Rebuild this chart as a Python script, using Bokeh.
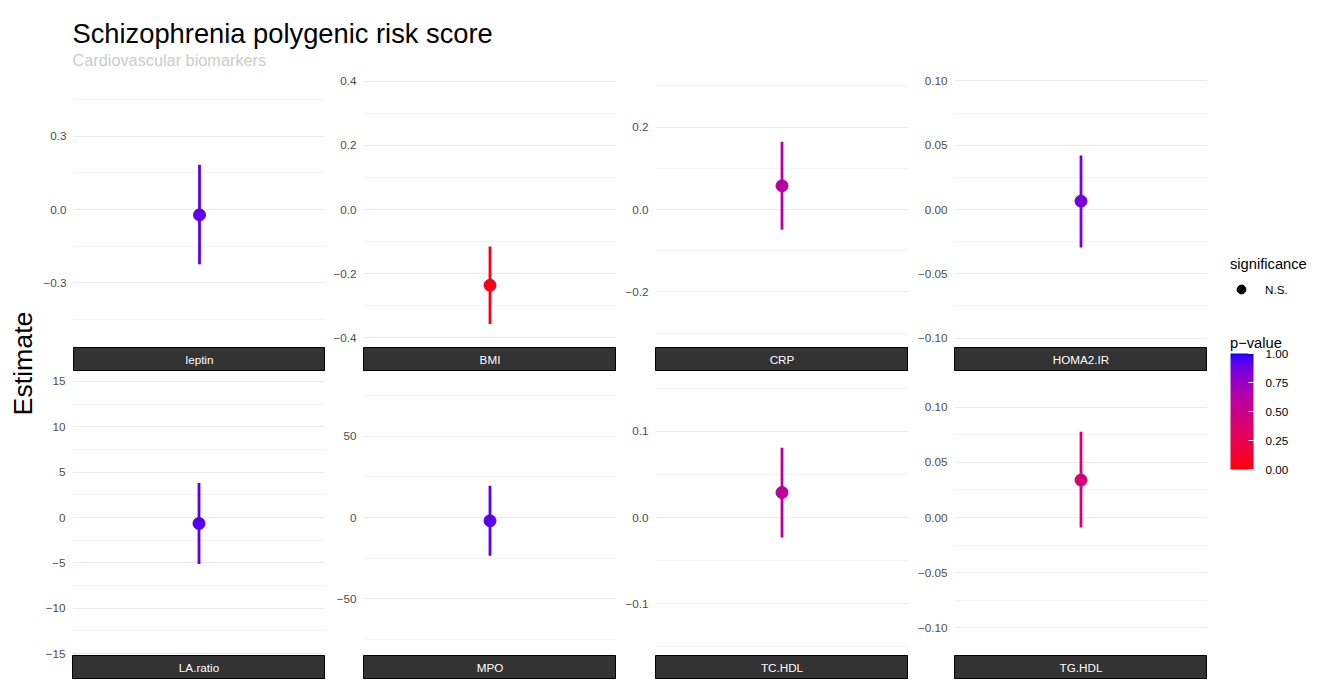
import math
from bokeh.plotting import figure
from bokeh.models import (ColumnDataSource, Range1d, FixedTicker, CustomJSTickFormatter,
                          LinearColorMapper, ColorBar, PrintfTickFormatter, Label,
                          Legend, LegendItem)
from bokeh.layouts import row, column
from bokeh.embed import file_html
from bokeh.resources import INLINE
from bokeh.transform import transform

# ---------------- data ----------------
markers = ["leptin", "BMI", "CRP", "HOMA2.IR", "LA.ratio", "MPO", "TC.HDL", "TG.HDL"]
estimate = [-0.022, -0.236, 0.0576, 0.0065, -0.66, -2.0, 0.029, 0.0339]
ci_low = [-0.224, -0.357, -0.0493, -0.0295, -5.12, -23.5, -0.0232, -0.0091]
ci_high = [0.183, -0.115, 0.1645, 0.042, 3.81, 19.6, 0.081, 0.0776]
p_value = [0.92, 0.05, 0.62, 0.86, 0.93, 0.92, 0.58, 0.42]
significance = ["N.S."] * 8
y_limit = [0.565, 0.43, 0.335, 0.1073, 15.2, 84.9, 0.160, 0.125]
major_ticks = [
    [-0.3, 0.0, 0.3],
    [-0.4, -0.2, 0.0, 0.2, 0.4],
    [-0.2, 0.0, 0.2],
    [-0.10, -0.05, 0.0, 0.05, 0.10],
    [-15, -10, -5, 0, 5, 10, 15],
    [-50, 0, 50],
    [-0.1, 0.0, 0.1],
    [-0.10, -0.05, 0.0, 0.05, 0.10],
]
minor_ticks = [
    [-0.45, -0.15, 0.15, 0.45],
    [-0.3, -0.1, 0.1, 0.3],
    [-0.3, -0.1, 0.1, 0.3],
    [-0.075, -0.025, 0.025, 0.075],
    [-12.5, -7.5, -2.5, 2.5, 7.5, 12.5],
    [-75, -25, 25, 75],
    [-0.15, -0.05, 0.05, 0.15],
    [-0.125, -0.075, -0.025, 0.025, 0.075, 0.125],
]
tick_decimals = [1, 1, 1, 2, 0, 0, 1, 2]
colorbar_ticks = [0.0, 0.25, 0.5, 0.75, 1.0]

title_text = "Schizophrenia polygenic risk score"
subtitle_text = "Cardiovascular biomarkers"
ylabel_text = "Estimate"
colorbar_title = "p\u2212value"
shape_title = "significance"

FONT = "Liberation Sans"

# ---------------- colour scale: red -> blue interpolated in Lab ----------------
def _lin(c):
    return c / 12.92 if c <= 0.04045 else ((c + 0.055) / 1.055) ** 2.4

def _gam(c):
    c = max(0.0, min(1.0, c))
    return 12.92 * c if c <= 0.0031308 else 1.055 * c ** (1 / 2.4) - 0.055

XN, YN, ZN = 0.95047, 1.0, 1.08883

def _f(t):
    d = 6 / 29
    return t ** (1 / 3) if t > d ** 3 else t / (3 * d * d) + 4 / 29

def _finv(t):
    d = 6 / 29
    return t ** 3 if t > d else 3 * d * d * (t - 4 / 29)

def hex_to_lab(h):
    r, g, b = [_lin(int(h[i:i + 2], 16) / 255) for i in (1, 3, 5)]
    X = 0.4124564 * r + 0.3575761 * g + 0.1804375 * b
    Y = 0.2126729 * r + 0.7151522 * g + 0.0721750 * b
    Z = 0.0193339 * r + 0.1191920 * g + 0.9503041 * b
    fx, fy, fz = _f(X / XN), _f(Y / YN), _f(Z / ZN)
    return 116 * fy - 16, 500 * (fx - fy), 200 * (fy - fz)

def lab_to_hex(L, a, b):
    fy = (L + 16) / 116
    fx = fy + a / 500
    fz = fy - b / 200
    X, Y, Z = XN * _finv(fx), YN * _finv(fy), ZN * _finv(fz)
    r = 3.2404542 * X - 1.5371385 * Y - 0.4985314 * Z
    g = -0.9692660 * X + 1.8760108 * Y + 0.0415560 * Z
    bb = 0.0556434 * X - 0.2040259 * Y + 1.0572252 * Z
    return "#%02x%02x%02x" % tuple(int(round(_gam(c) * 255)) for c in (r, g, bb))

def lab_palette(c0, c1, n=256):
    l0, l1 = hex_to_lab(c0), hex_to_lab(c1)
    out = []
    for k in range(n):
        t = k / (n - 1)
        out.append(lab_to_hex(*[l0[j] + (l1[j] - l0[j]) * t for j in range(3)]))
    return out

mapper = LinearColorMapper(palette=lab_palette("#FF0000", "#0000FF"), low=0, high=1)

# ---------------- layout constants ----------------
COL_LEFT = [32, 38, 39, 46]
FRAME_W = 253
FRAME_H = 276
STRIP_H = 24
ROW_GAP = 8
OVER = 6          # panel canvas runs under the strip so edge tick labels are not cut
HEADER_H = 71
TOTAL_H = HEADER_H + FRAME_H + STRIP_H + ROW_GAP + FRAME_H + STRIP_H
MID_W = sum(COL_LEFT) + 4 * FRAME_W
EST_W = 40
LEG_W = 103


def blank_fig(w, h, xr, yr, **kw):
    f = figure(width=w, height=h, x_range=xr, y_range=yr, x_axis_location=None,
               y_axis_location=None, toolbar_location=None, output_backend="svg",
               title=None, min_border_left=0, min_border_right=0, min_border_top=0,
               min_border_bottom=0, outline_line_color=None, border_fill_color="white",
               **kw)
    for g in f.xgrid:
        g.visible = False
    for g in f.ygrid:
        g.visible = False
    return f


def make_panel(i, top):
    L = COL_LEFT[i % 4]
    src = ColumnDataSource(dict(m=[markers[i]], est=[estimate[i]], lo=[ci_low[i]],
                                hi=[ci_high[i]], p=[p_value[i]]))
    p = figure(width=L + FRAME_W, height=FRAME_H + top + OVER, x_range=[markers[i]],
               y_range=Range1d(-y_limit[i], y_limit[i]), x_axis_location=None,
               toolbar_location=None, output_backend="svg", title=None,
               min_border_left=L, min_border_right=0, min_border_top=top,
               min_border_bottom=OVER, outline_line_color=None,
               background_fill_color="white", border_fill_color="white")
    ax = p.yaxis[0]
    ax.ticker = FixedTicker(ticks=major_ticks[i], minor_ticks=minor_ticks[i])
    ax.formatter = CustomJSTickFormatter(
        code="return tick.toFixed(%d).replace('-', '\\u2212');" % tick_decimals[i])
    ax.axis_line_color = None
    ax.major_tick_line_color = None
    ax.minor_tick_line_color = None
    ax.major_tick_out = 0
    ax.major_tick_in = 0
    ax.minor_tick_out = 0
    ax.minor_tick_in = 0
    ax.major_label_text_font = FONT
    ax.major_label_text_font_size = "11.7px"
    ax.major_label_text_color = "#4D4D4D"
    ax.major_label_standoff = 7
    for g in p.xgrid:
        g.grid_line_color = None
    for g in p.ygrid:
        g.grid_line_color = "#EBEBEB"
        g.grid_line_width = 1.1
        g.minor_grid_line_color = "#EBEBEB"
        g.minor_grid_line_width = 0.55
    col = transform("p", mapper)
    p.segment(x0="m", y0="lo", x1="m", y1="hi", source=src, line_width=2.8,
              line_color=col)
    p.scatter(x="m", y="est", source=src, size=12, fill_color=col, line_color=col)
    return p


def make_strip(i):
    L = COL_LEFT[i % 4]
    s = blank_fig(L + FRAME_W, STRIP_H, Range1d(0, 1), Range1d(0, 1),
                  background_fill_color="#333333")
    s.min_border_left = L
    s.border_fill_alpha = 0
    s.outline_line_color = "black"
    s.outline_line_width = 1
    s.margin = (-OVER, 0, 0, 0)
    s.add_layout(Label(x=0.5, y=0.5, text=markers[i], text_align="center",
                       text_baseline="middle", text_color="white",
                       text_font=FONT, text_font_size="11.7px"))
    return s


# header with title & subtitle
header = blank_fig(MID_W, HEADER_H, Range1d(0, MID_W), Range1d(0, HEADER_H))
header.add_layout(Label(x=COL_LEFT[0], y=HEADER_H - 33.4, text=title_text,
                        text_font=FONT, text_font_size="27.3px", text_color="black",
                        text_baseline="alphabetic"))
header.add_layout(Label(x=COL_LEFT[0], y=HEADER_H - 59.3, text=subtitle_text,
                        text_font=FONT, text_font_size="16.3px", text_color="#CCCCCC",
                        text_baseline="alphabetic"))

# y label figure
est = blank_fig(EST_W, TOTAL_H, Range1d(0, EST_W), Range1d(0, TOTAL_H))
est.add_layout(Label(x=22, y=TOTAL_H - 363, text=ylabel_text, angle=math.pi / 2,
                     text_align="center", text_baseline="middle", text_font=FONT,
                     text_font_size="26.7px", text_color="black"))

# legend figure
leg = blank_fig(LEG_W, TOTAL_H, Range1d(0, LEG_W), Range1d(0, TOTAL_H))
dummy_src = ColumnDataSource(dict(x=[float("nan")], y=[float("nan")]))
dummy = leg.scatter(x="x", y="y", source=dummy_src, size=12, fill_color="black",
                    line_color="black")
legend = Legend(items=[LegendItem(label=significance[0], renderers=[dummy])],
                title=shape_title, location=(23, TOTAL_H - 300),
                padding=0, margin=0, spacing=0, glyph_width=22, glyph_height=22,
                label_standoff=13, label_text_font=FONT, label_text_font_size="11.7px",
                label_text_color="black", label_text_baseline="middle",
                title_text_font=FONT, title_text_font_size="14.7px",
                title_text_font_style="normal", title_text_color="black",
                title_standoff=6, border_line_color=None, background_fill_alpha=0)
leg.add_layout(legend, "center")

cbar = ColorBar(color_mapper=mapper, ticker=FixedTicker(ticks=colorbar_ticks),
                formatter=PrintfTickFormatter(format="%.2f"), width=23, height=116,
                major_label_text_font=FONT,
                major_label_text_font_size="11.7px", major_label_text_color="black",
                label_standoff=12, major_tick_line_color="white",
                major_tick_in=5, major_tick_out=0, minor_tick_line_color=None,
                bar_line_color=None, padding=0, background_fill_color=None,
                border_line_color=None, location=(23, TOTAL_H - 469))
leg.add_layout(cbar, "center")
leg.add_layout(Label(x=22.5, y=TOTAL_H - 342.5, text=colorbar_title, text_font=FONT,
                     text_font_size="14.7px", text_color="black",
                     text_baseline="alphabetic"))

row1 = row([column([make_panel(i, 0), make_strip(i)]) for i in range(4)])
row2 = row([column([make_panel(i, ROW_GAP), make_strip(i)]) for i in range(4, 8)])
mid = column([header, row1, row2])
page = row([est, mid, leg])

with open("out.html", "w", encoding="utf-8") as fh:
    fh.write(file_html(page, INLINE))
